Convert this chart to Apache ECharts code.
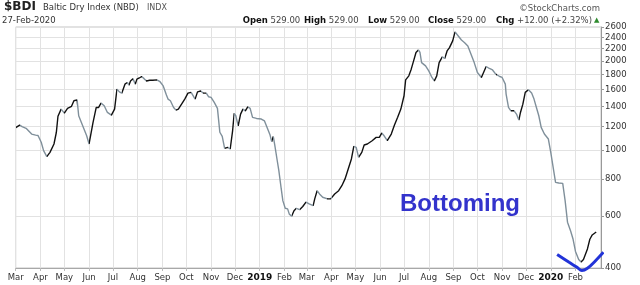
<!DOCTYPE html>
<html><head><meta charset="utf-8">
<script src="https://cdn.jsdelivr.net/npm/echarts@6/dist/echarts.min.js"></script>
<style>html,body{margin:0;padding:0;background:#fff}#c{width:640px;height:285px}</style>
</head><body><div id="c"></div>
<script>
const dates = [
'2018-03-01','2018-03-06','2018-03-09','2018-03-14','2018-03-21','2018-03-26','2018-03-29','2018-04-02','2018-04-05','2018-04-09',
'2018-04-13','2018-04-18','2018-04-21','2018-04-23','2018-04-27','2018-05-01','2018-05-05','2018-05-10','2018-05-13','2018-05-17',
'2018-05-19','2018-05-24','2018-05-29','2018-06-01','2018-06-06','2018-06-10','2018-06-13','2018-06-16','2018-06-20','2018-06-24',
'2018-06-29','2018-07-03','2018-07-06','2018-07-09','2018-07-12','2018-07-16','2018-07-19','2018-07-21','2018-07-23','2018-07-26',
'2018-07-29','2018-07-31','2018-08-03','2018-08-06','2018-08-09','2018-08-12','2018-08-16','2018-08-20','2018-08-25','2018-08-29',
'2018-09-02','2018-09-06','2018-09-08','2018-09-11','2018-09-15','2018-09-18','2018-09-21','2018-09-25','2018-09-29','2018-10-03',
'2018-10-07','2018-10-10','2018-10-12','2018-10-15','2018-10-19','2018-10-22','2018-10-26','2018-10-29','2018-11-01','2018-11-05',
'2018-11-09','2018-11-12','2018-11-15','2018-11-18','2018-11-22','2018-11-25','2018-11-28','2018-11-30','2018-12-02','2018-12-05',
'2018-12-08','2018-12-11','2018-12-14','2018-12-17','2018-12-20','2018-12-23','2018-12-28','2019-01-03','2019-01-07','2019-01-11',
'2019-01-14','2019-01-16','2019-01-18','2019-01-20','2019-01-23','2019-01-25','2019-01-28','2019-01-30','2019-02-02','2019-02-05',
'2019-02-07','2019-02-10','2019-02-13','2019-02-16','2019-02-20','2019-02-24','2019-02-28','2019-03-04','2019-03-09','2019-03-11',
'2019-03-14','2019-03-17','2019-03-21','2019-03-27','2019-03-31','2019-04-02','2019-04-05','2019-04-10','2019-04-14','2019-04-18',
'2019-04-22','2019-04-26','2019-04-29','2019-05-02','2019-05-05','2019-05-09','2019-05-12','2019-05-16','2019-05-22','2019-05-27',
'2019-05-31','2019-06-03','2019-06-06','2019-06-10','2019-06-15','2019-06-19','2019-06-23','2019-06-27','2019-07-01','2019-07-03',
'2019-07-07','2019-07-10','2019-07-13','2019-07-16','2019-07-19','2019-07-21','2019-07-23','2019-07-28','2019-08-01','2019-08-05',
'2019-08-08','2019-08-11','2019-08-14','2019-08-18','2019-08-21','2019-08-24','2019-08-27','2019-08-31','2019-09-03','2019-09-07',
'2019-09-11','2019-09-15','2019-09-19','2019-09-23','2019-09-27','2019-10-01','2019-10-06','2019-10-09','2019-10-12','2019-10-16',
'2019-10-20','2019-10-24','2019-10-26','2019-10-29','2019-11-01','2019-11-05','2019-11-06','2019-11-09','2019-11-12','2019-11-16',
'2019-11-19','2019-11-22','2019-11-24','2019-11-27','2019-11-30','2019-12-04','2019-12-08','2019-12-11','2019-12-14','2019-12-17',
'2019-12-20','2019-12-24','2019-12-29','2020-01-01','2020-01-04','2020-01-07','2020-01-11','2020-01-16','2020-01-19','2020-01-22',
'2020-01-26','2020-01-29','2020-02-01','2020-02-05','2020-02-08','2020-02-11','2020-02-13','2020-02-16','2020-02-19','2020-02-22',
'2020-02-24','2020-02-27'
];
const values = [
1190,1214,1200,1184,1132,1123,1120,1062,995,950,
982,1048,1148,1300,1374,1332,1382,1404,1466,1477,
1305,1207,1117,1048,1240,1392,1392,1439,1410,1339,
1311,1374,1605,1571,1555,1668,1690,1655,1710,1741,
1668,1734,1750,1770,1741,1710,1720,1720,1725,1700,
1645,1532,1485,1466,1392,1363,1374,1428,1485,1556,
1565,1516,1485,1571,1582,1556,1556,1512,1505,1447,
1382,1148,1112,1013,1021,1008,1161,1329,1305,1207,
1322,1374,1356,1399,1382,1289,1278,1272,1254,1177,
1123,1067,1112,1034,920,852,739,675,636,633,
609,598,624,636,629,645,667,658,649,684,
729,711,693,684,684,675,711,729,758,799,
863,933,1029,1021,945,982,1040,1048,1075,1103,
1103,1141,1117,1075,1132,1214,1289,1374,1524,1724,
1779,1874,1999,2133,2175,2133,1972,1922,1849,1757,
1710,1779,1972,2061,2036,2159,2216,2335,2503,2425,
2350,2302,2244,2105,1972,1826,1757,1834,1913,1884,
1862,1802,1802,1770,1757,1668,1544,1392,1356,1356,
1322,1262,1339,1428,1565,1597,1556,1485,1392,1305,
1192,1132,1089,982,874,778,774,772,675,571,
532,500,455,427,419,427,430,464,500,517,
520,529
];
const yTicks = [400,600,800,1000,1200,1400,1600,1800,2000,2200,2400,2600];
const monthTicks = ['2018-03-01','2018-04-01','2018-05-01','2018-06-01','2018-07-01','2018-08-01','2018-09-01','2018-10-01','2018-11-01','2018-12-01',
'2019-01-01','2019-02-01','2019-03-01','2019-04-01','2019-05-01','2019-06-01','2019-07-01','2019-08-01','2019-09-01','2019-10-01','2019-11-01','2019-12-01',
'2020-01-01','2020-02-01'];
const monthNames = ['Jan','Feb','Mar','Apr','May','Jun','Jul','Aug','Sep','Oct','Nov','Dec'];
const smileDates = ['2020-01-09','2020-01-24','2020-02-03','2020-02-09','2020-02-16','2020-02-25','2020-03-07'];
const smileValues = [444,418,402,392,399,420,452];

const ts = s => Date.parse(s);
const lineData = dates.map((d, i) => [ts(d), values[i]]);
const smileData = smileDates.map((d, i) => [ts(d), smileValues[i]]);
const UP = '#111111', DOWN = '#7f8f9a';
const pieces = [];
for (let i = 0; i < dates.length - 1; i++) {
  pieces.push({gte: ts(dates[i]), lt: ts(dates[i + 1]), color: values[i + 1] >= values[i] ? UP : DOWN});
}
pieces.push({gte: ts(dates[dates.length - 1]), color: UP});

const F = '"DejaVu Sans", sans-serif';
const chart = echarts.init(document.getElementById('c'), null, {renderer: 'canvas'});
chart.setOption({
  animation: false,
  backgroundColor: '#fff',
  grid: {left: 15.7, right: 39, top: 27, bottom: 17, show: true, borderColor: '#c4c4c4', borderWidth: 1, backgroundColor: 'transparent'},
  visualMap: {show: false, type: 'piecewise', seriesIndex: 0, dimension: 0, pieces: pieces},
  xAxis: {
    type: 'value', min: ts('2018-03-01'), max: ts('2020-03-04'),
    axisLine: {show: true, lineStyle: {color: '#a8a8a8'}},
    axisTick: {show: true, customValues: monthTicks.map(ts), length: 3, lineStyle: {color: '#bbb'}},
    axisLabel: {
      customValues: monthTicks.map(ts), margin: 5, fontSize: 8.5, fontFamily: F, color: '#333',
      formatter: v => { const d = new Date(v); const m = d.getUTCMonth(); return m === 0 ? '{y|' + d.getUTCFullYear() + '}' : monthNames[m]; },
      rich: {y: {fontSize: 9, fontWeight: 'bold', fontFamily: F, color: '#111'}}
    },
    splitLine: {show: true, lineStyle: {color: '#e2e2e2', width: 1}}
  },
  yAxis: {
    type: 'log', logBase: 10, min: 400, max: 2600, position: 'right',
    axisLine: {show: true, lineStyle: {color: '#999'}},
    axisTick: {show: true, customValues: yTicks, length: 3, lineStyle: {color: '#999'}},
    axisLabel: {customValues: yTicks, margin: 4, fontSize: 8.5, fontFamily: F, color: '#333', formatter: v => String(Math.round(v))},
    splitLine: {show: true, lineStyle: {color: '#e2e2e2', width: 1}}
  },
  series: [
    {type: 'line', data: lineData, showSymbol: false, lineStyle: {width: 1.4}, z: 3, silent: true},
    {type: 'line', data: smileData, smooth: 0.35, showSymbol: false, clip: false, lineStyle: {width: 3, color: '#2233d8'}, itemStyle: {color: '#2233d8'}, z: 4, silent: true}
  ],
  graphic: [
    {type: 'text', z: 100, x: 4, y: 7, style: {text: '$BDI', font: 'bold 12px ' + F, fill: '#222', align: 'left', verticalAlign: 'middle'}},
    {type: 'text', z: 100, x: 43, y: 7.5, style: {text: 'Baltic Dry Index (NBD)', font: '8.5px ' + F, fill: '#333', align: 'left', verticalAlign: 'middle'}},
    {type: 'text', z: 100, x: 147, y: 7.5, style: {text: 'INDX', font: '8px ' + F, fill: '#555', align: 'left', verticalAlign: 'middle'}},
    {type: 'text', z: 100, x: 2, y: 21, style: {text: '27-Feb-2020', font: '8.5px ' + F, fill: '#333', align: 'left', verticalAlign: 'middle'}},
    {type: 'text', z: 100, x: 600, y: 8.5, style: {text: '\u00A9StockCharts.com', font: '8.5px ' + F, fill: '#555', align: 'right', verticalAlign: 'middle'}},
    {type: 'text', z: 100, x: 242.7, y: 21, style: {text: '{b|Open} 529.00', font: '8.5px ' + F, fill: '#444', align: 'left', verticalAlign: 'middle', rich: {b: {font: 'bold 8.5px ' + F, fill: '#111'}}}},
    {type: 'text', z: 100, x: 304, y: 21, style: {text: '{b|High} 529.00', font: '8.5px ' + F, fill: '#444', align: 'left', verticalAlign: 'middle', rich: {b: {font: 'bold 8.5px ' + F, fill: '#111'}}}},
    {type: 'text', z: 100, x: 368, y: 21, style: {text: '{b|Low} 529.00', font: '8.5px ' + F, fill: '#444', align: 'left', verticalAlign: 'middle', rich: {b: {font: 'bold 8.5px ' + F, fill: '#111'}}}},
    {type: 'text', z: 100, x: 428, y: 21, style: {text: '{b|Close} 529.00', font: '8.5px ' + F, fill: '#444', align: 'left', verticalAlign: 'middle', rich: {b: {font: 'bold 8.5px ' + F, fill: '#111'}}}},
    {type: 'text', z: 100, x: 496, y: 21, style: {text: '{b|Chg} +12.00 (+2.32%)', font: '8.5px ' + F, fill: '#444', align: 'left', verticalAlign: 'middle', rich: {b: {font: 'bold 8.5px ' + F, fill: '#111'}}}},
    {type: 'text', z: 100, x: 594, y: 20.5, style: {text: '\u25B2', font: '7px ' + F, fill: '#2e8b2e', align: 'left', verticalAlign: 'middle'}},
    {type: 'text', z: 100, x: 400, y: 204, style: {text: 'Bottoming', font: 'bold 24px "Liberation Sans", Arial, sans-serif', fill: '#3333cc', stroke: 'none', lineWidth: 0, align: 'left', verticalAlign: 'middle'}}
  ]
});
</script></body></html>
